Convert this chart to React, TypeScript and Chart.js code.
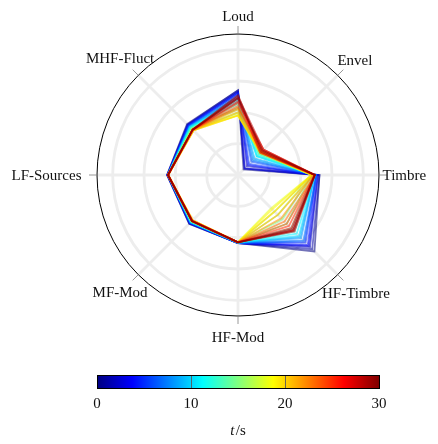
import React, { useEffect, useRef } from 'react';
import { Chart, registerables } from 'chart.js';

Chart.register(...registerables);

// ---- data ----
const axisLabels = ['Loud', 'Envel', 'Timbre', 'HF-Timbre', 'HF-Mod', 'MF-Mod', 'LF-Sources', 'MHF-Fluct'];
const times = [0, 1, 2, 3, 4, 5, 6, 7, 8, 9, 10, 11, 12, 13, 14, 15, 16, 17, 18, 19, 20, 21, 22, 23, 24, 25, 26, 27, 28, 29, 30];

const loud = [0.54, 0.54, 0.53, 0.53, 0.52, 0.52, 0.51, 0.50, 0.50, 0.49, 0.48, 0.47, 0.46, 0.45, 0.43, 0.42, 0.40, 0.39, 0.38, 0.38, 0.38, 0.40, 0.42, 0.43, 0.44, 0.46, 0.47, 0.49, 0.50, 0.51, 0.49];
const envel = [0.05, 0.06, 0.08, 0.06, 0.09, 0.10, 0.12, 0.13, 0.14, 0.15, 0.17, 0.17, 0.18, 0.19, 0.19, 0.20, 0.20, 0.20, 0.20, 0.21, 0.21, 0.20, 0.21, 0.22, 0.21, 0.23, 0.22, 0.20, 0.23, 0.21, 0.22];
const timbre = [0.52, 0.52, 0.51, 0.51, 0.50, 0.50, 0.50, 0.50, 0.49, 0.49, 0.49, 0.49, 0.48, 0.48, 0.47, 0.47, 0.47, 0.47, 0.47, 0.47, 0.47, 0.48, 0.48, 0.49, 0.49, 0.49, 0.49, 0.49, 0.49, 0.49, 0.49];
const hfTimbre = [0.69, 0.67, 0.65, 0.64, 0.63, 0.61, 0.60, 0.59, 0.57, 0.56, 0.55, 0.53, 0.51, 0.48, 0.44, 0.40, 0.36, 0.33, 0.30, 0.31, 0.33, 0.36, 0.39, 0.42, 0.44, 0.46, 0.48, 0.50, 0.51, 0.50, 0.49];
const hfMod = [0.435, 0.435, 0.435, 0.435, 0.435, 0.434, 0.434, 0.434, 0.433, 0.433, 0.432, 0.431, 0.431, 0.430, 0.430, 0.430, 0.429, 0.429, 0.429, 0.429, 0.429, 0.429, 0.429, 0.429, 0.430, 0.430, 0.430, 0.430, 0.430, 0.430, 0.430];
const mfMod = [0.44, 0.44, 0.437, 0.434, 0.434, 0.434, 0.431, 0.428, 0.428, 0.428, 0.428, 0.425, 0.421, 0.421, 0.421, 0.421, 0.418, 0.415, 0.412, 0.409, 0.409, 0.409, 0.412, 0.412, 0.415, 0.415, 0.415, 0.415, 0.415, 0.415, 0.415];
const lfSources = [0.453, 0.452, 0.451, 0.450, 0.449, 0.449, 0.448, 0.448, 0.448, 0.447, 0.447, 0.447, 0.447, 0.447, 0.447, 0.446, 0.446, 0.446, 0.446, 0.446, 0.446, 0.446, 0.446, 0.446, 0.447, 0.447, 0.447, 0.447, 0.447, 0.447, 0.447];
const mhfFluct = [0.46, 0.456, 0.453, 0.45, 0.447, 0.447, 0.444, 0.44, 0.437, 0.434, 0.434, 0.431, 0.428, 0.425, 0.421, 0.421, 0.415, 0.412, 0.409, 0.402, 0.402, 0.402, 0.405, 0.409, 0.409, 0.409, 0.409, 0.409, 0.409, 0.409, 0.409];

const gridTicks = [0.2, 0.4, 0.6, 0.8];
const rMax = 0.9;
const colorbarTicks = [0, 10, 20, 30];
const tMin = 0;
const tMax = 30;

// ---- style ----
const FONT = '"Liberation Serif", "Times New Roman", serif';
const FS = 15;
// small per-label nudges [dx, dy] in px (layout only)
const labelNudge: number[][] = [
  [0, 1], [1, 1], [-11, 0], [2, 2], [0, 2], [-2, 1], [-1, 0], [-2, -1],
];
const jetStops: number[][] = [
  [0, 0, 0, 128],
  [0.125, 0, 0, 255],
  [0.375, 0, 255, 255],
  [0.625, 255, 255, 0],
  [0.875, 255, 0, 0],
  [1, 128, 0, 0],
];
function jet(f: number, alpha: number) {
  const v = Math.max(0, Math.min(1, f));
  let k = 0;
  while (k < jetStops.length - 2 && v > jetStops[k + 1][0]) k++;
  const a = jetStops[k];
  const b = jetStops[k + 1];
  const u = (v - a[0]) / (b[0] - a[0]);
  const c = [1, 2, 3].map((j) => Math.round(a[j] + (b[j] - a[j]) * u));
  return `rgba(${c[0]},${c[1]},${c[2]},${alpha})`;
}

const decor = {
  id: 'decor',
  beforeDatasetsDraw(chart: any) {
    const s = chart.scales.r;
    const ctx = chart.ctx;
    const R = s.getDistanceFromCenterForValue(s.max);
    ctx.save();
    ctx.beginPath();
    ctx.arc(s.xCenter, s.yCenter, R, 0, Math.PI * 2);
    ctx.strokeStyle = '#000';
    ctx.lineWidth = 1;
    ctx.stroke();
    ctx.strokeStyle = '#8c8c8c';
    ctx.lineWidth = 0.9;
    for (let i = 0; i < axisLabels.length; i++) {
      const p1 = s.getPointPosition(i, R);
      const p2 = s.getPointPosition(i, R + 8);
      ctx.beginPath();
      ctx.moveTo(p1.x, p1.y);
      ctx.lineTo(p2.x, p2.y);
      ctx.stroke();
    }
    ctx.font = `${FS}px ${FONT}`;
    ctx.fillStyle = '#111';
    ctx.textAlign = 'center';
    ctx.textBaseline = 'alphabetic';
    const capH = FS * 0.66;
    for (let i = 0; i < axisLabels.length; i++) {
      const p = s.getPointPosition(i, R + 11);
      const ux = Math.cos(p.angle);
      const uy = Math.sin(p.angle);
      const w = ctx.measureText(axisLabels[i]).width;
      const a = w / 2 + 3.5;
      const b = capH / 2 + 3.5;
      const ta = Math.abs(ux) > 1e-6 ? a / Math.abs(ux) : Infinity;
      const tb = Math.abs(uy) > 1e-6 ? b / Math.abs(uy) : Infinity;
      const t = Math.min(ta, tb);
      const cx = p.x + ux * t + labelNudge[i][0];
      const cy = p.y + uy * t + labelNudge[i][1];
      ctx.fillText(axisLabels[i], cx, cy + capH / 2);
    }
    ctx.restore();
  },
  afterDraw(chart: any) {
    const s = chart.scales.r;
    const ctx = chart.ctx;
    const R = s.getDistanceFromCenterForValue(s.max);
    const x0 = s.xCenter - R;
    const x1 = s.xCenter + R;
    const y0 = 375;
    const h = 13;
    ctx.save();
    const g = ctx.createLinearGradient(x0, 0, x1, 0);
    jetStops.forEach((st) => g.addColorStop(st[0], `rgb(${st[1]},${st[2]},${st[3]})`));
    ctx.fillStyle = g;
    ctx.fillRect(x0, y0, x1 - x0, h);
    const xOf = (v: number) => x0 + ((v - tMin) / (tMax - tMin)) * (x1 - x0);
    ctx.strokeStyle = 'rgba(90,90,90,0.9)';
    ctx.lineWidth = 1;
    colorbarTicks.forEach((v) => {
      const x = Math.round(xOf(v)) + 0.5;
      ctx.beginPath();
      ctx.moveTo(x, y0);
      ctx.lineTo(x, y0 + h);
      ctx.stroke();
    });
    ctx.strokeStyle = '#000';
    ctx.strokeRect(Math.round(x0) + 0.5, y0 + 0.5, Math.round(x1 - x0), h);
    ctx.fillStyle = '#111';
    ctx.font = `${FS}px ${FONT}`;
    ctx.textAlign = 'center';
    ctx.textBaseline = 'alphabetic';
    colorbarTicks.forEach((v) => {
      ctx.fillText(String(v), xOf(v), 408);
    });
    ctx.textAlign = 'left';
    ctx.font = `italic ${FS}px ${FONT}`;
    const wt = ctx.measureText('t').width + 1.5;
    ctx.font = `${FS}px ${FONT}`;
    const ws = ctx.measureText('/s').width;
    const start = s.xCenter - (wt + ws) / 2;
    ctx.font = `italic ${FS}px ${FONT}`;
    ctx.fillText('t', start, 435);
    ctx.font = `${FS}px ${FONT}`;
    ctx.fillText('/s', start + wt, 435);
    ctx.restore();
  },
};

export default function App() {
  const ref = useRef<HTMLCanvasElement | null>(null);
  useEffect(() => {
    if (!ref.current) return;
    const datasets = times.map((t, i) => ({
      label: `t = ${t} s`,
      data: [loud[i], envel[i], timbre[i], hfTimbre[i], hfMod[i], mfMod[i], lfSources[i], mhfFluct[i]],
      borderColor: jet((t - tMin) / (tMax - tMin), 0.55),
      borderWidth: 1.8,
      pointRadius: 0,
      pointHoverRadius: 0,
      fill: false,
      tension: 0,
      order: times.length - 1 - i,
    }));
    const chart = new Chart(ref.current, {
      type: 'radar',
      data: { labels: axisLabels, datasets },
      options: {
        responsive: false,
        animation: false,
        layout: { padding: { left: 97, right: 59, top: 34, bottom: 128 } },
        plugins: { legend: { display: false }, tooltip: { enabled: false } },
        elements: { line: { borderJoinStyle: 'miter' } },
        scales: {
          r: {
            min: 0,
            max: rMax,
            afterBuildTicks: (sc: any) => {
              sc.ticks = [0, ...gridTicks].map((v) => ({ value: v }));
            },
            ticks: { display: false },
            pointLabels: { display: false },
            grid: { circular: true, color: '#ededed', lineWidth: 2.8 },
            angleLines: { color: '#ededed', lineWidth: 2.8 },
          },
        },
      } as any,
      plugins: [decor],
    });
    return () => chart.destroy();
  }, []);
  return (
    <div style={{ position: 'absolute', left: 0, top: 0, width: 438, height: 444, background: '#fff' }}>
      <canvas ref={ref} width={438} height={444} style={{ width: 438, height: 444, display: 'block' }} />
    </div>
  );
}
